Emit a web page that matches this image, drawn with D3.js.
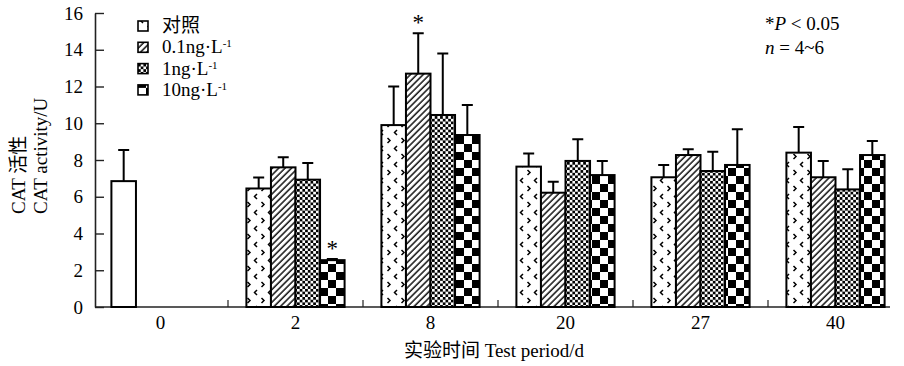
<!DOCTYPE html>
<html>
<head>
<meta charset="utf-8">
<script src="https://cdn.jsdelivr.net/npm/d3@7"></script>
<style>
  body { margin: 0; background: #fff; }
  text { font-family: "Liberation Serif", "Times New Roman", serif; fill: #000; }
  .cjk { font-family: "Liberation Serif", "Noto Sans CJK SC", serif; }
</style>
</head>
<body>
<div id="chart"></div>
<script>
// periods (d) and series
var periods = ["0", "2", "8", "20", "27", "40"];
var seriesNames = ["对照", "0.1ng·L", "1ng·L", "10ng·L"];
var seriesSup = ["", "-1", "-1", "-1"];

// means and SD (null = no bar)
var ctrlMean = [6.85, 6.45, 9.9, 7.64, 7.06, 8.4];
var ctrlSd   = [1.7, 0.6, 2.1, 0.72, 0.67, 1.4];
var c01Mean  = [null, 7.6, 12.7, 6.22, 8.27, 7.06];
var c01Sd    = [null, 0.55, 2.2, 0.6, 0.31, 0.89];
var c1Mean   = [null, 6.93, 10.45, 7.95, 7.4, 6.4];
var c1Sd     = [null, 0.9, 3.35, 1.18, 1.05, 1.09];
var c10Mean  = [null, 2.55, 9.36, 7.18, 7.73, 8.27];
var c10Sd    = [null, 0.06, 1.63, 0.77, 1.94, 0.76];

var yTicks = [0, 2, 4, 6, 8, 10, 12, 14, 16];
// significant bars (*P < 0.05)
var sigPeriods = ["2", "8"];
var sigSeries = [3, 1];

var means = [ctrlMean, c01Mean, c1Mean, c10Mean];
var sds = [ctrlSd, c01Sd, c1Sd, c10Sd];

var width = 904, height = 366;
var svg = d3.select("#chart").append("svg")
    .attr("width", width)
    .attr("height", height);

// patterns
var defs = svg.append("defs");
var pChev = defs.append("pattern").attr("id", "pChev")
    .attr("patternUnits", "userSpaceOnUse").attr("width", 14).attr("height", 16);
pChev.append("rect").attr("width", 14).attr("height", 16).attr("fill", "#fff");
pChev.append("path").attr("d", "M5,2 L2.5,4.5 L5,7 M9.5,10 L12,12.5 L9.5,15")
    .attr("fill", "none").attr("stroke", "#000").attr("stroke-width", 1.5);

var pHatch = defs.append("pattern").attr("id", "pHatch")
    .attr("patternUnits", "userSpaceOnUse").attr("width", 4.5).attr("height", 4.5)
    .attr("patternTransform", "rotate(45)");
pHatch.append("rect").attr("width", 4.5).attr("height", 4.5).attr("fill", "#fff");
pHatch.append("line").attr("x1", 1).attr("y1", 0).attr("x2", 1).attr("y2", 4.5)
    .attr("stroke", "#000").attr("stroke-width", 1.4);

var pFine = defs.append("pattern").attr("id", "pFine")
    .attr("patternUnits", "userSpaceOnUse").attr("width", 5.4).attr("height", 5.4);
pFine.append("rect").attr("width", 5.4).attr("height", 5.4).attr("fill", "#fff");
pFine.append("rect").attr("width", 2.7).attr("height", 2.7).attr("fill", "#000");
pFine.append("rect").attr("x", 2.7).attr("y", 2.7).attr("width", 2.7).attr("height", 2.7).attr("fill", "#000");

var pBig = defs.append("pattern").attr("id", "pBig")
    .attr("patternUnits", "userSpaceOnUse").attr("width", 16).attr("height", 16);
pBig.append("rect").attr("width", 16).attr("height", 16).attr("fill", "#fff");
pBig.append("rect").attr("width", 8).attr("height", 8).attr("fill", "#000");
pBig.append("rect").attr("x", 8).attr("y", 8).attr("width", 8).attr("height", 8).attr("fill", "#000");

var fills = ["url(#pChev)", "url(#pHatch)", "url(#pFine)", "url(#pBig)"];

// scales
var x = d3.scaleBand().domain(periods).range([93, 903]).padding(0);
var xs = d3.scaleBand().domain(d3.range(seriesNames.length))
    .range([0, x.bandwidth()]).paddingInner(0).paddingOuter(0.75);
var y = d3.scaleLinear().domain([0, 16]).range([307, 13]);

// y axis (inward ticks)
var yAxis = svg.append("g")
    .attr("transform", "translate(95,0)")
    .call(d3.axisLeft(y).tickValues(yTicks).tickSizeInner(-9).tickSizeOuter(0).tickPadding(12));
yAxis.select(".domain").attr("stroke", "#222").attr("stroke-width", 1.6);
yAxis.selectAll(".tick line").attr("stroke", "#222").attr("stroke-width", 1.4);
yAxis.selectAll(".tick text")
    .style("font-family", "Liberation Serif").style("font-size", "19px");

// x axis
var xAxis = svg.append("g")
    .attr("transform", "translate(0,307)")
    .call(d3.axisBottom(x).tickSize(0).tickPadding(9));
xAxis.select(".domain").remove();
xAxis.selectAll(".tick text")
    .style("font-family", "Liberation Serif").style("font-size", "19px");
svg.append("line")
    .attr("x1", 95).attr("x2", 890)
    .attr("y1", y(0)).attr("y2", y(0))
    .attr("stroke", "#222").attr("stroke-width", 1.6);
// separator ticks between periods
svg.selectAll(".sep")
    .data(periods.slice(1))
    .enter().append("line")
    .attr("class", "sep")
    .attr("x1", d => x(d)).attr("x2", d => x(d))
    .attr("y1", y(0)).attr("y2", y(0) - 7)
    .attr("stroke", "#222").attr("stroke-width", 1.2);

// bars
var barData = [];
periods.forEach(function(p, pi) {
    means.forEach(function(arr, si) {
        if (arr[pi] != null) {
            barData.push({ period: p, pi: pi, s: si, v: arr[pi], sd: sds[si][pi] });
        }
    });
});

var g = svg.append("g");
// error bars first (behind bars)
g.selectAll(".err")
    .data(barData)
    .enter().append("path")
    .attr("class", "err")
    .attr("d", function(d) {
        var cx = x(d.period) + xs(d.s) + xs.bandwidth() / 2;
        var top = y(d.v + d.sd);
        return "M" + cx + "," + y(d.v) + " V" + top + " M" + (cx - 5.5) + "," + top + " H" + (cx + 5.5);
    })
    .attr("fill", "none").attr("stroke", "#000").attr("stroke-width", 2);

g.selectAll(".bar")
    .data(barData)
    .enter().append("rect")
    .attr("class", "bar")
    .attr("x", d => x(d.period) + xs(d.s))
    .attr("width", xs.bandwidth())
    .attr("y", d => y(d.v))
    .attr("height", d => y(0) - y(d.v))
    .attr("fill", d => d.pi === 0 ? "#fff" : fills[d.s])
    .attr("stroke", "#000").attr("stroke-width", 2);

// significance stars
sigPeriods.forEach(function(p, i) {
    var s = sigSeries[i];
    var pi = periods.indexOf(p);
    var v = means[s][pi], sd = sds[s][pi];
    svg.append("text")
        .attr("x", x(p) + xs(s) + xs.bandwidth() / 2)
        .attr("y", y(v + sd) - 3)
        .attr("text-anchor", "middle")
        .style("font-size", "23px")
        .text("*");
});

// legend
var legend = svg.selectAll(".legend")
    .data(seriesNames)
    .enter().append("g")
    .attr("class", "legend")
    .attr("transform", (d, i) => "translate(138," + (32 + i * 21.3) + ")");
legend.append("rect")
    .attr("x", 0).attr("y", -11)
    .attr("width", 10).attr("height", 10)
    .attr("fill", (d, i) => fills[i])
    .attr("stroke", "#000").attr("stroke-width", 1.6);
var lt = legend.append("text")
    .attr("class", "cjk")
    .attr("x", 24).attr("y", 0)
    .style("font-size", "19px");
lt.append("tspan").text(d => d);
lt.append("tspan")
    .attr("dy", -6).style("font-size", "11px")
    .text((d, i) => seriesSup[i]);

// annotation
var ann = svg.append("text").attr("x", 765).attr("y", 30).style("font-size", "19px");
ann.append("tspan").text("*");
ann.append("tspan").style("font-style", "italic").text("P");
ann.append("tspan").text(" < 0.05");
var ann2 = svg.append("text").attr("x", 765).attr("y", 54).style("font-size", "19px");
ann2.append("tspan").style("font-style", "italic").text("n");
ann2.append("tspan").text(" = 4~6");

// axis titles
svg.append("text")
    .attr("class", "cjk")
    .attr("transform", "translate(25,214) rotate(-90)")
    .attr("text-anchor", "start")
    .style("font-size", "19px")
    .text("CAT 活性");
svg.append("text")
    .attr("transform", "translate(47,214) rotate(-90)")
    .attr("text-anchor", "start")
    .style("font-size", "19px")
    .text("CAT activity/U");
svg.append("text")
    .attr("class", "cjk")
    .attr("x", 494).attr("y", 357)
    .attr("text-anchor", "middle")
    .style("font-size", "19px")
    .text("实验时间 Test period/d");
</script>
</body>
</html>
